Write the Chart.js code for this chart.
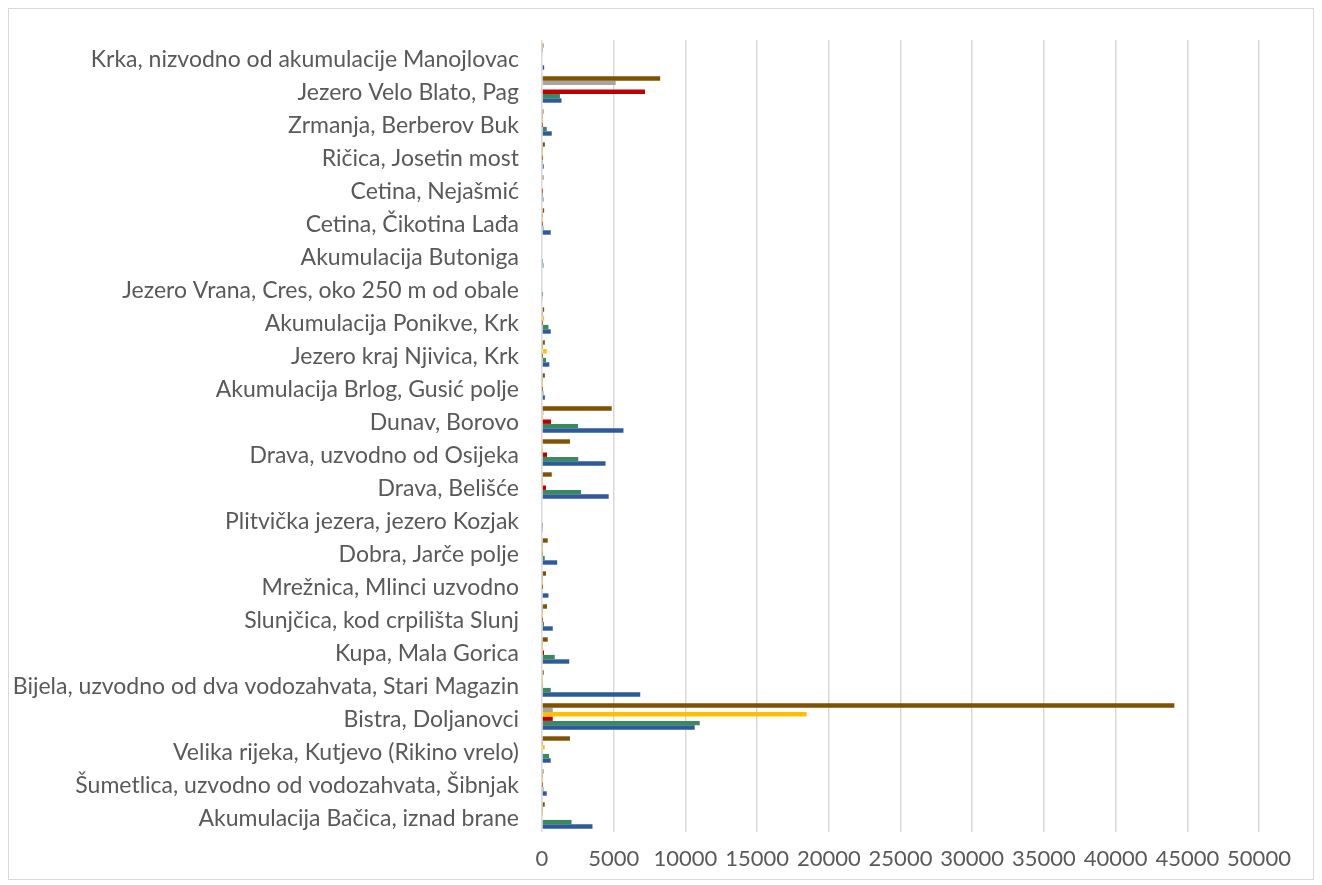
<!DOCTYPE html>
<html>
<head>
<meta charset="utf-8">
<script src="https://cdn.jsdelivr.net/npm/chart.js@4"></script>
<style>
  body { margin: 0; background: #fff; }
  #wrap { width: 1322px; height: 885px; position: relative; }
</style>
</head>
<body>
<div id="wrap"><canvas id="sitesChart"></canvas></div>
<script>
// categories as shown, top to bottom
const sites = [
  "Krka, nizvodno od akumulacije Manojlovac",
  "Jezero Velo Blato, Pag",
  "Zrmanja, Berberov Buk",
  "Ričica, Josetin most",
  "Cetina, Nejašmić",
  "Cetina, Čikotina Lađa",
  "Akumulacija Butoniga",
  "Jezero Vrana, Cres, oko 250 m od obale",
  "Akumulacija Ponikve, Krk",
  "Jezero kraj Njivica, Krk",
  "Akumulacija Brlog, Gusić polje",
  "Dunav, Borovo",
  "Drava, uzvodno od Osijeka",
  "Drava, Belišće",
  "Plitvička jezera, jezero Kozjak",
  "Dobra, Jarče polje",
  "Mrežnica, Mlinci uzvodno",
  "Slunjčica, kod crpilišta Slunj",
  "Kupa, Mala Gorica",
  "Bijela, uzvodno od dva vodozahvata, Stari Magazin",
  "Bistra, Doljanovci",
  "Velika rijeka, Kutjevo (Rikino vrelo)",
  "Šumetlica, uzvodno od vodozahvata, Šibnjak",
  "Akumulacija Bačica, iznad brane"
];

// series, same order as sites
const brownSeries  = [100, 8240, 100, 200, 100, 150, 0, 0, 150, 200, 200, 4860, 1950, 680, 0, 400, 280, 350, 400, 120, 44100, 1950, 100, 190];
const graySeries   = [10, 5140, 10, 10, 0, 10, 0, 0, 10, 10, 10, 100, 50, 20, 0, 10, 10, 10, 10, 30, 750, 10, 10, 10];
const yellowSeries = [40, 50, 10, 10, 0, 10, 0, 0, 150, 330, 10, 20, 10, 10, 0, 10, 10, 10, 10, 10, 18450, 190, 10, 10];
const redSeries    = [0, 7180, 10, 10, 10, 10, 0, 0, 10, 10, 10, 630, 350, 280, 0, 30, 10, 10, 140, 70, 750, 60, 10, 50];
const greenSeries  = [50, 1250, 330, 30, 20, 100, 20, 10, 450, 280, 100, 2510, 2530, 2720, 20, 190, 60, 140, 890, 610, 11000, 490, 100, 2060];
const blueSeries   = [150, 1360, 680, 120, 100, 610, 100, 60, 610, 510, 200, 5680, 4430, 4650, 70, 1060, 450, 750, 1900, 6850, 10650, 610, 330, 3520];

const xTicks = [0, 5000, 10000, 15000, 20000, 25000, 30000, 35000, 40000, 45000, 50000];

const frame = {
  id: "frame",
  beforeDraw(chart) {
    const c = chart.ctx;
    c.save();
    c.fillStyle = "#fff";
    c.fillRect(0, 0, chart.width, chart.height);
    c.strokeStyle = "#d9d9d9";
    c.lineWidth = 1;
    c.strokeRect(8.5, 8.5, 1305, 871);
    c.restore();
  }
};

const ctx = document.getElementById("sitesChart").getContext("2d");
const sitesChart = new Chart(ctx, {
  type: "bar",
  data: {
    labels: sites,
    datasets: [
      { data: brownSeries, backgroundColor: "#7f5100" },
      { data: graySeries, backgroundColor: "#a5a5a5" },
      { data: yellowSeries, backgroundColor: "#ffc000" },
      { data: redSeries, backgroundColor: "#c00000" },
      { data: greenSeries, backgroundColor: "#3a8a5f" },
      { data: blueSeries, backgroundColor: "#2e5a9c" },
    ],
  },
  options: {
    indexAxis: "y",
    responsive: true,
    maintainAspectRatio: false,
    animation: false,
    datasets: {
      bar: { categoryPercentage: 0.8, barPercentage: 1, borderWidth: 0 },
    },
    layout: {
      padding: { top: 40, right: 63, bottom: 0, left: 10 },
    },
    plugins: {
      legend: { display: false },
      tooltip: { enabled: false },
    },
    scales: {
      x: {
        min: 0,
        max: 50000,
        afterBuildTicks: (scale) => {
          scale.ticks = xTicks.map((v) => ({ value: v }));
        },
        afterFit: (scale) => {
          scale.height = 53;
        },
        ticks: {
          color: "#595959",
          font: { family: "Lato", size: 22 },
          padding: 14,
          maxRotation: 0,
          callback: (v) => String(v),
        },
        grid: { color: "#d9d9d9", lineWidth: 1.5, drawTicks: false },
        border: { display: false },
      },
      y: {
        afterFit: (scale) => {
          scale.width = 532;
        },
        ticks: {
          color: "#595959",
          font: { family: "Lato", size: 23 },
          padding: 23,
          labelOffset: 3,
          autoSkip: false,
        },
        grid: { display: false, drawTicks: false },
        border: { display: false },
      },
    },
  },
  plugins: [frame],
});
</script>
</body>
</html>
